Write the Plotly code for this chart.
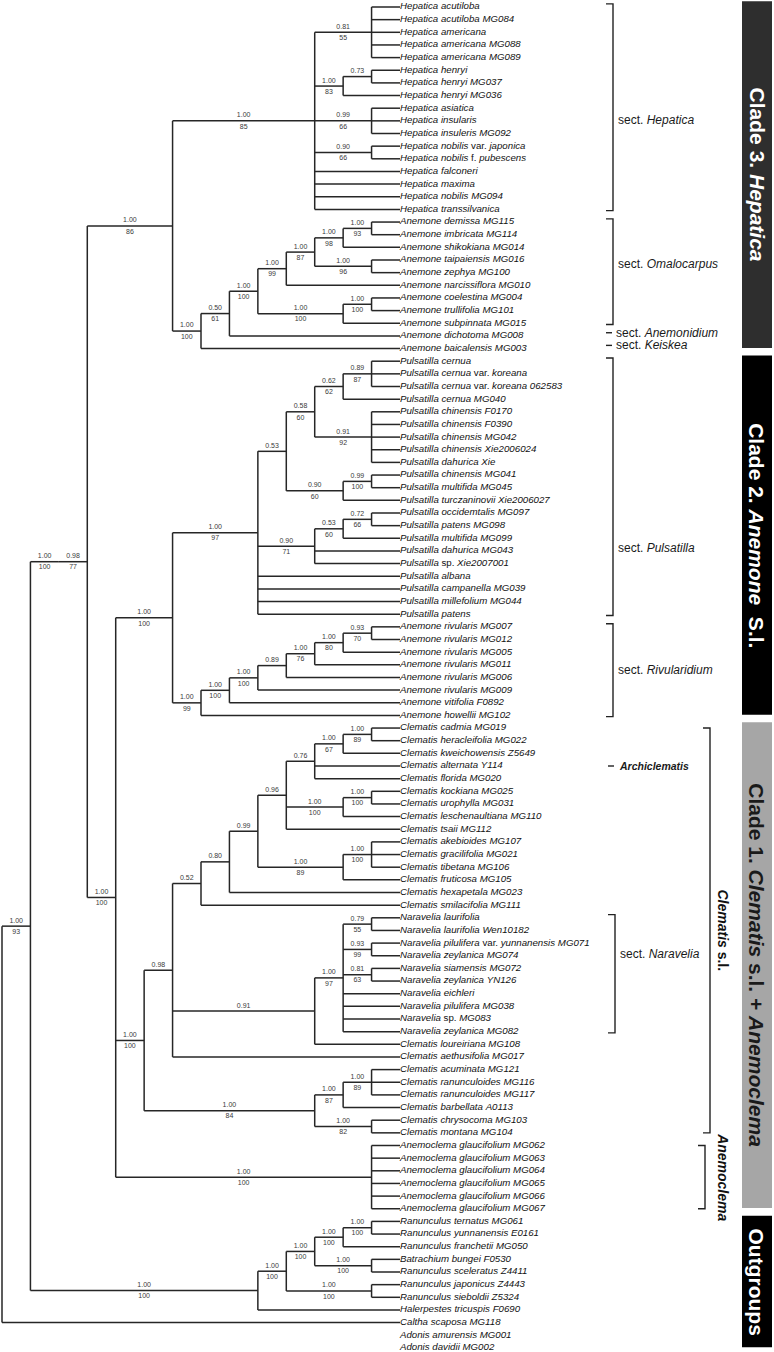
import plotly.graph_objects as go

# ---------------- data ----------------
TAXA = [
    "Hepatica acutiloba", "Hepatica acutiloba MG084", "Hepatica americana", "Hepatica americana MG088",
    "Hepatica americana MG089", "Hepatica henryi", "Hepatica henryi MG037", "Hepatica henryi MG036",
    "Hepatica asiatica", "Hepatica insularis", "Hepatica insuleris MG092", "Hepatica nobilis var. japonica",
    "Hepatica nobilis f. pubescens", "Hepatica falconeri", "Hepatica maxima", "Hepatica nobilis MG094",
    "Hepatica transsilvanica",
    "Anemone demissa MG115", "Anemone imbricata MG114", "Anemone shikokiana MG014", "Anemone taipaiensis MG016",
    "Anemone zephya MG100", "Anemone narcissiflora MG010", "Anemone coelestina MG004", "Anemone trullifolia MG101",
    "Anemone subpinnata MG015", "Anemone dichotoma MG008", "Anemone baicalensis MG003",
    "Pulsatilla cernua", "Pulsatilla cernua var. koreana", "Pulsatilla cernua var. koreana 062583",
    "Pulsatilla cernua MG040", "Pulsatilla chinensis F0170", "Pulsatilla chinensis F0390",
    "Pulsatilla chinensis MG042", "Pulsatilla chinensis Xie2006024", "Pulsatilla dahurica Xie",
    "Pulsatilla chinensis MG041", "Pulsatilla multifida MG045", "Pulsatilla turczaninovii Xie2006027",
    "Pulsatilla occidemtalis MG097", "Pulsatilla patens MG098", "Pulsatilla multifida MG099",
    "Pulsatilla dahurica MG043", "Pulsatilla sp. Xie2007001", "Pulsatilla albana", "Pulsatilla campanella MG039",
    "Pulsatilla millefolium MG044", "Pulsatilla patens",
    "Anemone rivularis MG007", "Anemone rivularis MG012", "Anemone rivularis MG005", "Anemone rivularis MG011",
    "Anemone rivularis MG006", "Anemone rivularis MG009", "Anemone vitifolia F0892", "Anemone howellii MG102",
    "Clematis cadmia MG019", "Clematis heracleifolia MG022", "Clematis kweichowensis Z5649",
    "Clematis alternata Y114", "Clematis florida MG020", "Clematis kockiana MG025", "Clematis urophylla MG031",
    "Clematis leschenaultiana MG110", "Clematis tsaii MG112", "Clematis akebioides MG107",
    "Clematis gracilifolia MG021", "Clematis tibetana MG106", "Clematis fruticosa MG105",
    "Clematis hexapetala MG023", "Clematis smilacifolia MG111",
    "Naravelia laurifolia", "Naravelia laurifolia Wen10182", "Naravelia pilulifera var. yunnanensis MG071",
    "Naravelia zeylanica MG074", "Naravelia siamensis MG072", "Naravelia zeylanica YN126", "Naravelia eichleri",
    "Naravelia pilulifera MG038", "Naravelia sp. MG083", "Naravelia zeylanica MG082",
    "Clematis loureiriana MG108", "Clematis aethusifolia MG017", "Clematis acuminata MG121",
    "Clematis ranunculoides MG116", "Clematis ranunculoides MG117", "Clematis barbellata A0113",
    "Clematis chrysocoma MG103", "Clematis montana MG104",
    "Anemoclema glaucifolium MG062", "Anemoclema glaucifolium MG063", "Anemoclema glaucifolium MG064",
    "Anemoclema glaucifolium MG065", "Anemoclema glaucifolium MG066", "Anemoclema glaucifolium MG067",
    "Ranunculus ternatus MG061", "Ranunculus yunnanensis E0161", "Ranunculus franchetii MG050",
    "Batrachium bungei F0530", "Ranunculus sceleratus Z4411", "Ranunculus japonicus Z4443",
    "Ranunculus sieboldii Z5324", "Halerpestes tricuspis F0690", "Caltha scaposa MG118",
    "Adonis amurensis MG001", "Adonis davidii MG002",
]

# topology (leaf indices into TAXA), support as "posterior/bootstrap"
HEPATICA = "((0,1,2,3,4)0.81/55,((5,6)0.73,7)1.00/83,(8,9,10)0.99/66,(11,12)0.90/66,13,14,15,16)1.00/85"
ANEMONE = ("(((((((17,18)1.00/93,19)1.00/98,(20,21)1.00/96)1.00/87,22)1.00/99,"
           "((23,24)1.00/100,25)1.00/100)1.00/100,26)0.50/61,27)1.00/100")
CLADE3 = "(" + HEPATICA + "," + ANEMONE + ")1.00/86"
PULS_A = ("((((28,29,30)0.89/87,31)0.62/62,(32,33,34,35,36)0.91/92)0.58/60,"
          "((37,38)0.99/100,39)0.90/60)0.53")
PULS_B = "(((40,41)0.72/66,42)0.53/60,43,44)0.90/71"
PULSATILLA = "(" + PULS_A + "," + PULS_B + ",45,46,47,48)1.00/97"
RIVULARIDIUM = "(((((((49,50)0.93/70,51)1.00/80,52)1.00/76,53)0.89,54)1.00/100,55)1.00/100,56)1.00/99"
CLADE2 = "(" + PULSATILLA + "," + RIVULARIDIUM + ")1.00/100"
CLEM_A = ("((((((57,58)1.00/89,59)1.00/67,60,61)0.76,((62,63)1.00/100,64)1.00/100,65)0.96,"
          "((66,67,68)1.00/100,69)1.00/89)0.99,70)0.80,71)0.52")
NARAVELIA = "(((72,73)0.79/55,(74,75)0.93/99,(76,77)0.81/63,78,79,80,81)1.00/97,82)0.91"
CLEM_B = "(" + CLEM_A + "," + NARAVELIA + ",83)0.98"
CLEM_C = "(((84,85,86)1.00/89,87)1.00/87,(88,89)1.00/82)1.00/84"
CLEMATIS = "(" + CLEM_B + "," + CLEM_C + ")1.00/100"
ANEMOCLEMA = "(90,91,92,93,94,95)1.00/100"
CLADE1 = "(" + CLEMATIS + "," + ANEMOCLEMA + ")1.00/100"
INGROUP = "(" + CLADE3 + ",(" + CLADE2 + "," + CLADE1 + ")0.98/77)1.00/100"
RANUNC = "(((((96,97)1.00/100,98)1.00/100,(99,100)1.00/100)1.00/100,(101,102)1.00/100)1.00/100,103)1.00/100"
TREE = "(((" + INGROUP + "," + RANUNC + ")1.00/93,104)1.00/100,105,106)"

# side annotations: (label, first leaf, last leaf, label row)
SECTIONS = [
    ("<i>Hepatica</i>", 0, 16, 8.95),
    ("<i>Omalocarpus</i>", 17, 25, 20.3),
    ("<i>Pulsatilla</i>", 28, 48, 42.8),
    ("<i>Rivularidium</i>", 49, 56, 52.4),
]
SINGLE_SECTIONS = [("<i>Anemonidium</i>", 26), ("<i>Keiskea</i>", 27)]
NARAVELIA_SECT = ("<i>Naravelia</i>", 72, 81, 74.9)
ARCHICLEMATIS_ROW = 60
GENUS_BRACKETS = [("<b><i>Clematis</i> s.l.</b>", 57, 89, 710, 13),
                  ("<b><i>Anemoclema</i></b>", 90, 95, 705, 18)]
CLADES = [
    ("Clade 3. <i>Hepatica</i>", 0, 27, "#2e2e2e", "white"),
    ("Clade 2. <i>Anemone</i>  S.l.", 28, 56, "#000000", "white"),
    ("Clade 1. <i>Clematis</i> s.l. + <i>Anemoclema</i>", 57, 95, "#a6a6a6", "#1a1a1a"),
    ("Outgroups", 96, 106, "#000000", "white"),
]

# ---------------- geometry ----------------
W, H = 774, 1352
ROOT_PX, TIP_PX = 2.0, 400.0
Y0_PX, DY_PX = 7.0, 12.65
FONT = "Liberation Sans, Arial, Helvetica, sans-serif"


def parse(s):
    pos = 0

    def node():
        nonlocal pos
        if s[pos] == "(":
            pos += 1
            kids = [node()]
            while s[pos] == ",":
                pos += 1
                kids.append(node())
            pos += 1  # ')'
            start = pos
            while pos < len(s) and s[pos] not in ",)":
                pos += 1
            return {"kids": kids, "label": s[start:pos]}
        start = pos
        while s[pos] not in ",)":
            pos += 1
        return {"leaf": int(s[start:pos])}

    return node()


root = parse(TREE)


def measure(n):
    if "leaf" in n:
        n["h"], n["y"] = 0, float(n["leaf"])
    else:
        for k in n["kids"]:
            measure(k)
        n["h"] = 1 + max(k["h"] for k in n["kids"])
        n["y"] = (n["kids"][0]["y"] + n["kids"][-1]["y"]) / 2


measure(root)
DEPTH = root["h"]
STEP_PX = (TIP_PX - ROOT_PX) / DEPTH


def px2x(px):
    return (px - ROOT_PX) / STEP_PX


def py2y(py):
    return (py - Y0_PX) / DY_PX


lx, ly = [], []
pp_x, pp_y, pp_t, bs_x, bs_y, bs_t = [], [], [], [], [], []


def walk(n):
    n["x"] = DEPTH - n["h"]
    if "kids" not in n:
        return
    for k in n["kids"]:
        walk(k)
    lx.extend([n["x"], n["x"], None])
    ly.extend([n["kids"][0]["y"], n["kids"][-1]["y"], None])
    for k in n["kids"]:
        lx.extend([n["x"], k["x"], None])
        ly.extend([k["y"], k["y"], None])
        if k.get("label"):
            parts = k["label"].split("/")
            mx = (n["x"] + k["x"]) / 2
            pp_x.append(mx); pp_y.append(k["y"] - 0.42); pp_t.append(parts[0])
            if len(parts) > 1:
                bs_x.append(mx); bs_y.append(k["y"] + 0.47); bs_t.append(parts[1])


walk(root)

UPRIGHT = {"var.", "f.", "sp."}


def fmt(name):
    return " ".join(w if w in UPRIGHT else "<i>" + w + "</i>" for w in name.split(" "))


fig = go.Figure()
LINE = "#262626"
fig.add_trace(go.Scatter(x=lx, y=ly, mode="lines", line=dict(color=LINE, width=1.5),
                         hoverinfo="skip"))
fig.add_trace(go.Scatter(x=[DEPTH] * len(TAXA), y=list(range(len(TAXA))),
                         mode="text", text=[fmt(t) for t in TAXA], textposition="middle right",
                         textfont=dict(family=FONT, size=9.7, color="#111"), hoverinfo="skip"))
fig.add_trace(go.Scatter(x=pp_x, y=pp_y, mode="text", text=pp_t, textposition="middle center",
                         textfont=dict(family=FONT, size=7, color="#3a3a3a"), hoverinfo="skip"))
fig.add_trace(go.Scatter(x=bs_x, y=bs_y, mode="text", text=bs_t, textposition="middle center",
                         textfont=dict(family=FONT, size=7, color="#3a3a3a"), hoverinfo="skip"))

# brackets
bx, by = [], []
annotations = []


def bracket(first, last, xpx, hook=7, pad_top=0.25, pad_bot=0.1):
    xv, xh = px2x(xpx), px2x(xpx - hook)
    y1, y2 = first - pad_top, last + pad_bot
    bx.extend([xh, xv, xv, xh, None])
    by.extend([y1, y1, y2, y2, None])


SECT_X = 613
SECT_FONT = dict(family=FONT, size=12, color="#1a1a1a")
for lab, a, b, row in SECTIONS:
    bracket(a, b, SECT_X)
    annotations.append(dict(x=px2x(SECT_X + 3), y=row, text="sect. " + lab, xanchor="left",
                            yanchor="middle", showarrow=False, font=SECT_FONT))
for lab, row in SINGLE_SECTIONS:
    bx.extend([px2x(SECT_X - 7), px2x(SECT_X - 1), None]); by.extend([row - 0.25, row - 0.25, None])
    annotations.append(dict(x=px2x(SECT_X + 1), y=row - 0.25, text="sect. " + lab, xanchor="left",
                            yanchor="middle", showarrow=False, font=SECT_FONT))
lab, a, b, row = NARAVELIA_SECT
bracket(a, b, SECT_X + 2)
annotations.append(dict(x=px2x(SECT_X + 5), y=row, text="sect. " + lab, xanchor="left", yanchor="middle",
                        showarrow=False, font=SECT_FONT))
bx.extend([px2x(608), px2x(614), None]); by.extend([ARCHICLEMATIS_ROW, ARCHICLEMATIS_ROW, None])
annotations.append(dict(x=px2x(617), y=ARCHICLEMATIS_ROW, text="<b><i>Archiclematis</i></b>", xanchor="left",
                        yanchor="middle", showarrow=False, font=dict(family=FONT, size=10.5, color="#1a1a1a")))
for lab, a, b, xpx, off in GENUS_BRACKETS:
    bracket(a, b, xpx, pad_top=0.0, pad_bot=0.0)
    annotations.append(dict(x=px2x(xpx + off), y=(a + b) / 2, text=lab, textangle=90, xanchor="center",
                            yanchor="middle", showarrow=False, font=dict(family=FONT, size=14, color="#111")))

fig.add_trace(go.Scatter(x=bx, y=by, mode="lines", line=dict(color="#222", width=1.4), hoverinfo="skip"))

shapes = []
BAR_L, BAR_R = 742, 772
for lab, a, b, fill, tc in CLADES:
    y1, y2 = a - 0.45, b - 0.05
    shapes.append(dict(type="rect", xref="x", yref="y", x0=px2x(BAR_L), x1=px2x(BAR_R), y0=y1, y1=y2,
                       fillcolor=fill, line=dict(width=0), layer="below"))
    annotations.append(dict(x=px2x((BAR_L + BAR_R) / 2), y=(y1 + y2) / 2, text="<b>" + lab + "</b>",
                            textangle=90, xanchor="center", yanchor="middle", showarrow=False,
                            font=dict(family=FONT, size=21, color=tc)))

fig.update_layout(
    width=W, height=H, margin=dict(l=0, r=0, t=0, b=0),
    paper_bgcolor="white", plot_bgcolor="white", showlegend=False,
    xaxis=dict(range=[px2x(0), px2x(W)], visible=False, fixedrange=True),
    yaxis=dict(range=[py2y(H), py2y(0)], visible=False, fixedrange=True),
    shapes=shapes, annotations=annotations,
)
fig.write_html("out.html", config={"displayModeBar": False},
               post_script="document.body.style.margin='0';document.body.style.overflow='hidden';")
